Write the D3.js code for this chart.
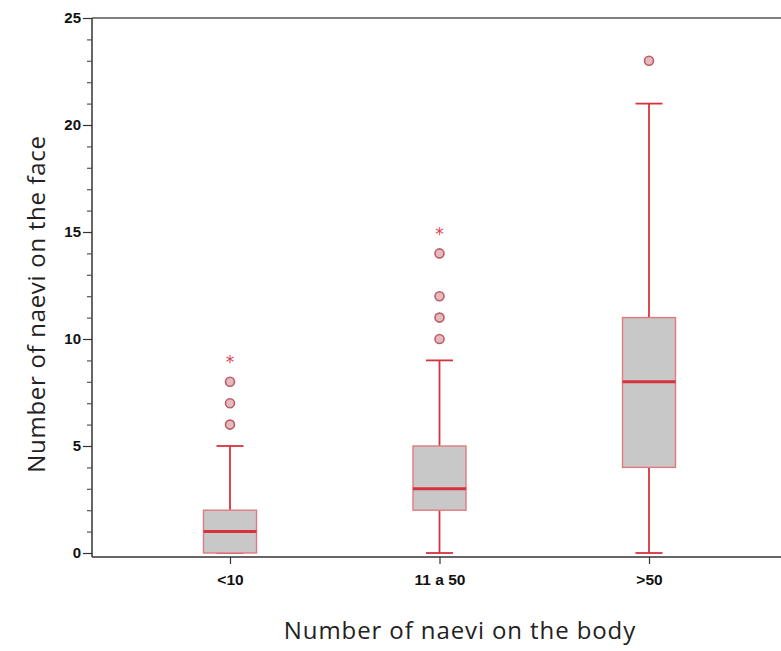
<!DOCTYPE html>
<html><head><meta charset="utf-8">
<script src="https://cdn.jsdelivr.net/npm/d3@7"></script>
<style>body{margin:0;background:#fff}svg{display:block}</style>
</head><body>
<svg id="c" width="781" height="651"></svg>
<script>
const categories = ["<10", "11 a 50", ">50"];
const whiskerLow = [0, 0, 0];
const q1 = [0, 2, 4];
const median = [1, 3, 8];
const q3 = [2, 5, 11];
const whiskerHigh = [5, 9, 21];
const outliers = [[6, 7, 8], [10, 11, 12, 14], [23]];
const extremes = [[9], [15], []];
const yTicks = [0, 5, 10, 15, 20, 25];

(function () {
const svg = d3.select("#c");
const mLeft = 92, mRight = 781, mTop = 18, mBottom = 553;
const y = d3.scaleLinear().domain([0, 25]).range([mBottom, mTop]);
const xp = d3.scalePoint().domain(categories).range([230, 649]);
const boxW = 53, capW = 27;

svg.append("line").attr("x1", mLeft).attr("x2", mRight).attr("y1", mTop).attr("y2", mTop)
  .attr("stroke", "#555").attr("stroke-width", 1.5);
svg.append("line").attr("x1", mLeft).attr("x2", mRight).attr("y1", mBottom + 4).attr("y2", mBottom + 4)
  .attr("stroke", "#333").attr("stroke-width", 1.5);

const yAxis = d3.axisLeft(y).tickValues(yTicks).tickSize(9).tickPadding(2);
const gy = svg.append("g").attr("transform", `translate(${mLeft},0)`).call(yAxis);
gy.select(".domain").attr("stroke", "#333").attr("stroke-width", 1.5)
  .attr("d", `M0,${mTop}V${mBottom + 4}`);
gy.selectAll(".tick line").attr("stroke", "#333").attr("stroke-width", 1.2);
gy.selectAll(".tick text").attr("font-family", "Liberation Sans, Arial, sans-serif")
  .attr("font-size", 15).attr("font-weight", "bold").attr("fill", "#111");
const minor = d3.range(0, 26).filter(v => v % 5 !== 0);
const yMinor = d3.axisLeft(y).tickValues(minor).tickSize(5).tickFormat("");
const gm = svg.append("g").attr("transform", `translate(${mLeft},0)`).call(yMinor);
gm.select(".domain").remove();
gm.selectAll(".tick line").attr("stroke", "#555").attr("stroke-width", 1.2);

const xAxis = d3.axisBottom(xp).tickSize(7).tickPadding(10);
const gx = svg.append("g").attr("transform", `translate(0,${mBottom + 4})`).call(xAxis);
gx.select(".domain").remove();
gx.selectAll(".tick line").attr("stroke", "#333").attr("stroke-width", 1.2);
gx.selectAll(".tick text").attr("font-family", "Liberation Sans, Arial, sans-serif")
  .attr("font-size", 15.5).attr("font-weight", "bold").attr("fill", "#111");

const red = "#d8323c";
categories.forEach((c, i) => {
  const cx = xp(c);
  const g = svg.append("g");
  g.append("line").attr("x1", cx).attr("x2", cx).attr("y1", y(whiskerLow[i])).attr("y2", y(q1[i]))
    .attr("stroke", red).attr("stroke-width", 1.8);
  g.append("line").attr("x1", cx).attr("x2", cx).attr("y1", y(q3[i])).attr("y2", y(whiskerHigh[i]))
    .attr("stroke", red).attr("stroke-width", 1.8);
  [whiskerLow[i], whiskerHigh[i]].forEach(v => {
    g.append("line").attr("x1", cx - capW / 2).attr("x2", cx + capW / 2).attr("y1", y(v)).attr("y2", y(v))
      .attr("stroke", red).attr("stroke-width", 1.8);
  });
  g.append("rect").attr("x", cx - boxW / 2).attr("width", boxW)
    .attr("y", y(q3[i])).attr("height", y(q1[i]) - y(q3[i]))
    .attr("fill", "#c8c8c8").attr("stroke", "#e07a80").attr("stroke-width", 1.4);
  g.append("line").attr("x1", cx - boxW / 2).attr("x2", cx + boxW / 2)
    .attr("y1", y(median[i])).attr("y2", y(median[i]))
    .attr("stroke", red).attr("stroke-width", 3);
  outliers[i].forEach(v => {
    g.append("circle").attr("cx", cx).attr("cy", y(v)).attr("r", 4.5)
      .attr("fill", "#e6b9bd").attr("stroke", "#b8606a").attr("stroke-width", 1.6);
  });
  extremes[i].forEach(v => {
    g.append("text").attr("x", cx).attr("y", y(v) + 8).attr("text-anchor", "middle")
      .attr("font-family", "DejaVu Sans, sans-serif").attr("font-size", 17).attr("fill", "#e04050").text("*");
  });
});

svg.append("text").attr("x", 460).attr("y", 639).attr("text-anchor", "middle")
  .attr("font-family", "Open Sans, sans-serif").attr("font-size", 24).attr("letter-spacing", 0.9)
  .attr("fill", "#222").text("Number of naevi on the body");
svg.append("text").attr("transform", "translate(45,304) rotate(-90)").attr("text-anchor", "middle")
  .attr("font-family", "Open Sans, sans-serif").attr("font-size", 24).attr("letter-spacing", 0.7)
  .attr("fill", "#222").text("Number of naevi on the face");
})();
</script>
</body></html>
